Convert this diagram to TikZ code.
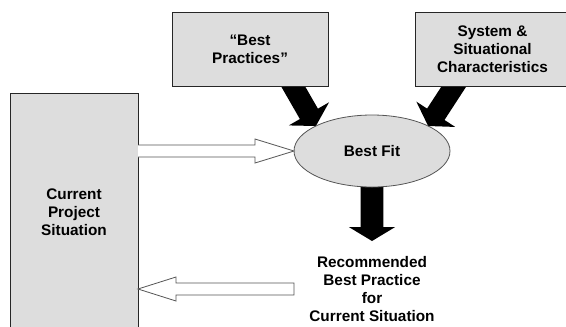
\documentclass[tikz,border=0pt]{standalone}
\usepackage{fontspec}
\setmainfont{Liberation Sans}
\usetikzlibrary{calc,backgrounds,shapes.geometric}
\definecolor{boxgray}{RGB}{221,221,221}
\definecolor{edgegray}{RGB}{85,85,85}
\newcommand\fatarrow[3]{% #1 start, #2 tip, #3 half shaft width
  \path (#2) coordinate (fa-t) ($(#2)!10.5pt!(#1)$) coordinate (fa-b);
  \fill[black] ($(#1)!#3!90:(fa-t)$) -- ($(fa-b)!#3!90:(fa-t)$) -- ($(fa-b)!17.4pt!90:(fa-t)$) -- (fa-t)
    -- ($(fa-b)!17.4pt!-90:(fa-t)$) -- ($(fa-b)!#3!-90:(fa-t)$) -- ($(#1)!#3!-90:(fa-t)$) -- cycle;}
\tikzset{
  lbl/.style={align=center, font=\bfseries\fontsize{11.5}{13.5}\selectfont},
  graybox/.style={lbl, draw=black!85, fill=boxgray, inner sep=0pt, outer sep=0pt, line width=0.6pt},
  openarr/.style={draw=edgegray, fill=white, line width=0.6pt, line join=miter}
}
\begin{document}
\begin{tikzpicture}[x=0.75pt, y=-0.75pt]
\useasboundingbox (0,0) rectangle (566,326);
\clip (0,0) rectangle (566,326);
\node[graybox, minimum width=117pt, minimum height=55.5pt] (bp) at (250,49) {“Best\\Practices”};
\node[graybox, minimum width=116.25pt, minimum height=55.5pt] (sys) at (492.5,49) {System \&\\Situational\\Characteristics};
\node[graybox, minimum width=96pt, minimum height=178.5pt] (cur) at (74,212) {Current\\Project\\Situation};
\node[lbl, ellipse, draw=edgegray, fill=boxgray, line width=0.6pt, minimum width=117pt, minimum height=54pt, inner sep=0pt, outer sep=0pt] (fit) at (372,151) {Best Fit};
\node[lbl, inner sep=0pt] (rec) at (372,289) {Recommended\\Best Practice\\for\\Current Situation};
\coordinate (bpstart) at ($(bp.south)+(36,-12)$);
\coordinate (sysstart) at ($(sys.south)+(-30.5,-12)$);
\coordinate (dtip) at (372,241);
\begin{pgfonlayer}{background}
  \fatarrow{bpstart}{fit.156}{7.8pt}
  \fatarrow{sysstart}{fit.24}{7.8pt}
  \fatarrow{fit.center}{dtip}{8.6pt}
\end{pgfonlayer}
% open arrow into Best Fit
\coordinate (ra) at (cur.east |- fit.west);
\draw[openarr] ($(ra)+(0,-6)$) -- ($(fit.west)+(-39,-6)$) -- ($(fit.west)+(-39,-12)$) -- (fit.west)
  -- ($(fit.west)+(-39,12)$) -- ($(fit.west)+(-39,6)$) -- ($(ra)+(0,6)$);
% open arrow back to current situation
\coordinate (lt) at (294,289);
\coordinate (lh) at (cur.east |- lt);
\draw[openarr] ($(lt)+(0,-6)$) -- ($(lh)+(38,-6)$) -- ($(lh)+(38,-12)$) -- (lh)
  -- ($(lh)+(38,12)$) -- ($(lh)+(38,6)$) -- ($(lt)+(0,6)$) -- cycle;
\end{tikzpicture}
\end{document}
